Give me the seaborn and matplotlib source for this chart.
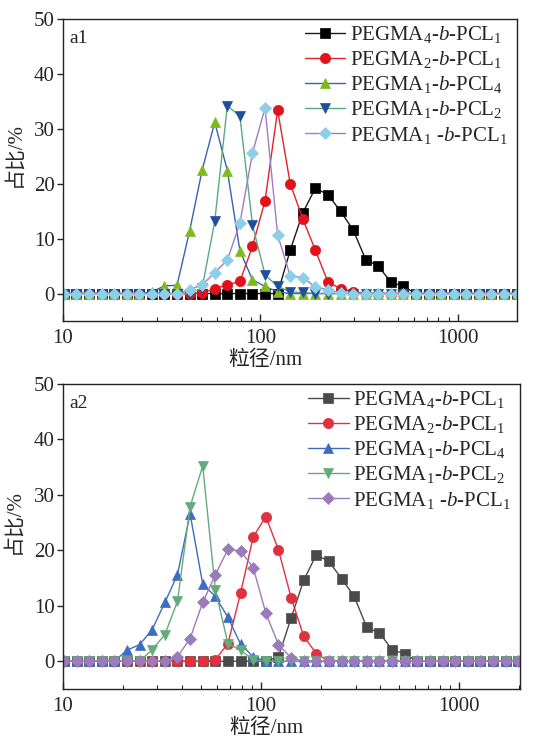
import matplotlib
matplotlib.use("Agg")
import matplotlib.pyplot as plt
import matplotlib.ticker as mticker
import seaborn as sns
import pandas as pd

sns.set_style("ticks")
plt.rcParams["font.family"] = ["Liberation Serif", "Noto Sans CJK SC"]
plt.rcParams["mathtext.fontset"] = "custom"
plt.rcParams["mathtext.rm"] = "Liberation Serif"
plt.rcParams["mathtext.it"] = "Liberation Serif:italic"

# DLS size classes (nm)
sizes = [10.1, 11.7, 13.54, 15.69, 18.17, 21.04, 24.36, 28.21, 32.67, 37.84,
         43.82, 50.75, 58.77, 68.06, 78.82, 91.28, 105.7, 122.4, 141.8, 164.2,
         190.1, 220.2, 255.0, 295.3, 342.0, 396.1, 458.7, 531.2, 615.1, 712.4,
         825.0, 955.4, 1106, 1281, 1484, 1718, 1990]

labels = [r"PEGMA$_4$-$\it{b}$-PCL$_1$",
          r"PEGMA$_2$-$\it{b}$-PCL$_1$",
          r"PEGMA$_1$-$\it{b}$-PCL$_4$",
          r"PEGMA$_1$-$\it{b}$-PCL$_2$",
          r"PEGMA$_1$ -$\it{b}$-PCL$_1$"]

# panel a1 (%)
a1_p4l1 = [0, 0, 0, 0, 0, 0, 0, 0, 0, 0,
           0, 0, 0, 0, 0, 0, 0, 0, 7.9, 14.7,
           19.2, 18.0, 15.0, 11.6, 6.2, 5.0, 2.1, 1.3, 0, 0,
           0, 0, 0, 0, 0, 0, 0]
a1_p2l1 = [0, 0, 0, 0, 0, 0, 0, 0, 0, 0,
           0, 0.1, 0.9, 1.6, 2.2, 8.6, 16.9, 33.4, 20.0, 13.6,
           7.9, 2.1, 0.9, 0.3, 0, 0, 0, 0, 0, 0,
           0, 0, 0, 0, 0, 0, 0]
a1_p1l4 = [0, 0, 0, 0, 0, 0, 0, 0.3, 1.4, 1.5,
           11.4, 22.5, 31.2, 22.4, 7.8, 2.5, 1.3, 0.3, 0, 0,
           0, 0, 0, 0, 0, 0, 0, 0, 0, 0,
           0, 0, 0, 0, 0, 0, 0]
a1_p1l2 = [0, 0, 0, 0, 0, 0, 0, 0, 0, 0,
           0, 1.0, 13.2, 34.2, 32.3, 12.5, 3.4, 1.3, 0.3, 0.2,
           0, 0, 0, 0, 0, 0, 0, 0, 0, 0,
           0, 0, 0, 0, 0, 0, 0]
a1_p1l1 = [0, 0, 0, 0, 0, 0, 0, 0, 0, 0,
           0.7, 1.6, 3.8, 6.1, 12.8, 25.6, 33.8, 10.7, 3.2, 2.9,
           1.2, 0.7, 0.1, 0, 0, 0, 0, 0, 0, 0,
           0, 0, 0, 0, 0, 0, 0]

# panel a2 (%)
a2_p4l1 = [0, 0, 0, 0, 0, 0, 0, 0, 0, 0,
           0, 0, 0, 0, 0, 0, 0, 0.8, 7.8, 14.6,
           19.2, 18.0, 14.9, 11.7, 6.1, 5.1, 2.1, 1.3, 0, 0,
           0, 0, 0, 0, 0, 0, 0]
a2_p2l1 = [0, 0, 0, 0, 0, 0, 0, 0, 0, 0,
           0, 0, 0.3, 3.2, 12.3, 22.4, 26.1, 20.1, 11.5, 4.5,
           1.4, 0, 0, 0, 0, 0, 0, 0, 0, 0,
           0, 0, 0, 0, 0, 0, 0]
a2_p1l4 = [0, 0, 0, 0, 0, 2.0, 3.0, 5.7, 10.6, 15.6,
           26.6, 13.9, 11.7, 7.9, 3.1, 0.8, 0, 0, 0, 0,
           0, 0, 0, 0, 0, 0, 0, 0, 0, 0,
           0, 0, 0, 0, 0, 0, 0]
a2_p1l2 = [0, 0, 0, 0, 0, 0, 0, 2.1, 4.8, 10.8,
           27.9, 35.2, 12.9, 3.2, 2.0, 0.2, 0, 0, 0, 0,
           0, 0, 0, 0, 0, 0, 0, 0, 0, 0,
           0, 0, 0, 0, 0, 0, 0]
a2_p1l1 = [0, 0, 0, 0, 0, 0, 0, 0, 0, 0.8,
           4.1, 10.6, 15.6, 20.2, 19.9, 16.9, 8.7, 3.0, 0.6, 0,
           0, 0, 0, 0, 0, 0, 0, 0, 0, 0,
           0, 0, 0, 0, 0, 0, 0]

markers = ["s", "o", "^", "v", "D"]
msizes = [6.6, 7.4, 7.6, 7.6, 6.4]

# (line colour, marker colour) per series
a1_colors = [("#1a1a1a", "#000000"), ("#e3212b", "#e0121c"),
             ("#3762b5", "#7dba1c"), ("#5aab7c", "#1f4f9c"),
             ("#a07cc2", "#8ccfe8")]
a2_colors = [("#4a4a4a", "#4a4a4a"), ("#e0313f", "#e0313f"),
             ("#3d6cc0", "#3d6cc0"), ("#63ab7a", "#63ab7a"),
             ("#9a7bbb", "#9a7bbb")]

FS = 15

fig = plt.figure(figsize=(5.36, 7.38), dpi=100)
ax1 = fig.add_axes([63 / 536, 1 - 321 / 738, 454 / 536, 302 / 738])
ax2 = fig.add_axes([63 / 536, 1 - 689 / 738, 457 / 536, 305 / 738])


def draw(ax, series, colors, tag, xmax):
    for vals, lab, mk, ms, (lc, mc) in zip(series, labels, markers, msizes, colors):
        df = pd.DataFrame({"size": sizes, "pct": vals})
        sns.lineplot(data=df, x="size", y="pct", ax=ax, color=lc, lw=1.0,
                     marker=mk, markersize=ms, markerfacecolor=mc,
                     markeredgecolor=mc, markeredgewidth=0.5, label=lab,
                     errorbar=None)
    ax.set_xscale("log")
    ax.set_xlim(10, xmax)
    ax.set_ylim(-5, 50)
    ax.set_yticks([0, 10, 20, 30, 40, 50])
    ax.xaxis.set_major_locator(mticker.FixedLocator([10, 100, 1000]))
    ax.xaxis.set_major_formatter(mticker.FixedFormatter(["10", "100", "1000"]))
    ax.xaxis.set_minor_locator(mticker.LogLocator(base=10, subs=range(2, 10)))
    ax.xaxis.set_minor_formatter(mticker.NullFormatter())
    ax.tick_params(axis="x", which="major", direction="in", length=5, width=1,
                   labelsize=FS, pad=6)
    ax.tick_params(axis="x", which="minor", direction="in", length=3, width=0.8)
    ax.tick_params(axis="y", which="major", direction="out", length=4, width=1,
                   labelsize=FS, pad=2)
    for sp in ax.spines.values():
        sp.set_linewidth(1.0)
        sp.set_color("#222222")
    ax.set_xlabel("粒径/nm", fontsize=FS, labelpad=0)
    ax.set_ylabel("占比/%", fontsize=FS, labelpad=2)
    ax.xaxis.set_label_coords(0.445, -0.097)
    ax.yaxis.set_label_coords(-0.086, 0.55)
    ax.text(0.015, 0.965, tag, transform=ax.transAxes, fontsize=14,
            ha="left", va="top")
    ax.legend(loc="upper right", bbox_to_anchor=(1.006, 1.025), frameon=False,
              fontsize=FS, handlelength=1.95, handletextpad=0.2,
              labelspacing=0.2, borderaxespad=0.2)


draw(ax1, [a1_p4l1, a1_p2l1, a1_p1l4, a1_p1l2, a1_p1l1], a1_colors, "a1", 2000)
draw(ax2, [a2_p4l1, a2_p2l1, a2_p1l4, a2_p1l2, a2_p1l1], a2_colors, "a2", 2030)

fig.savefig("out.png", dpi=100)
